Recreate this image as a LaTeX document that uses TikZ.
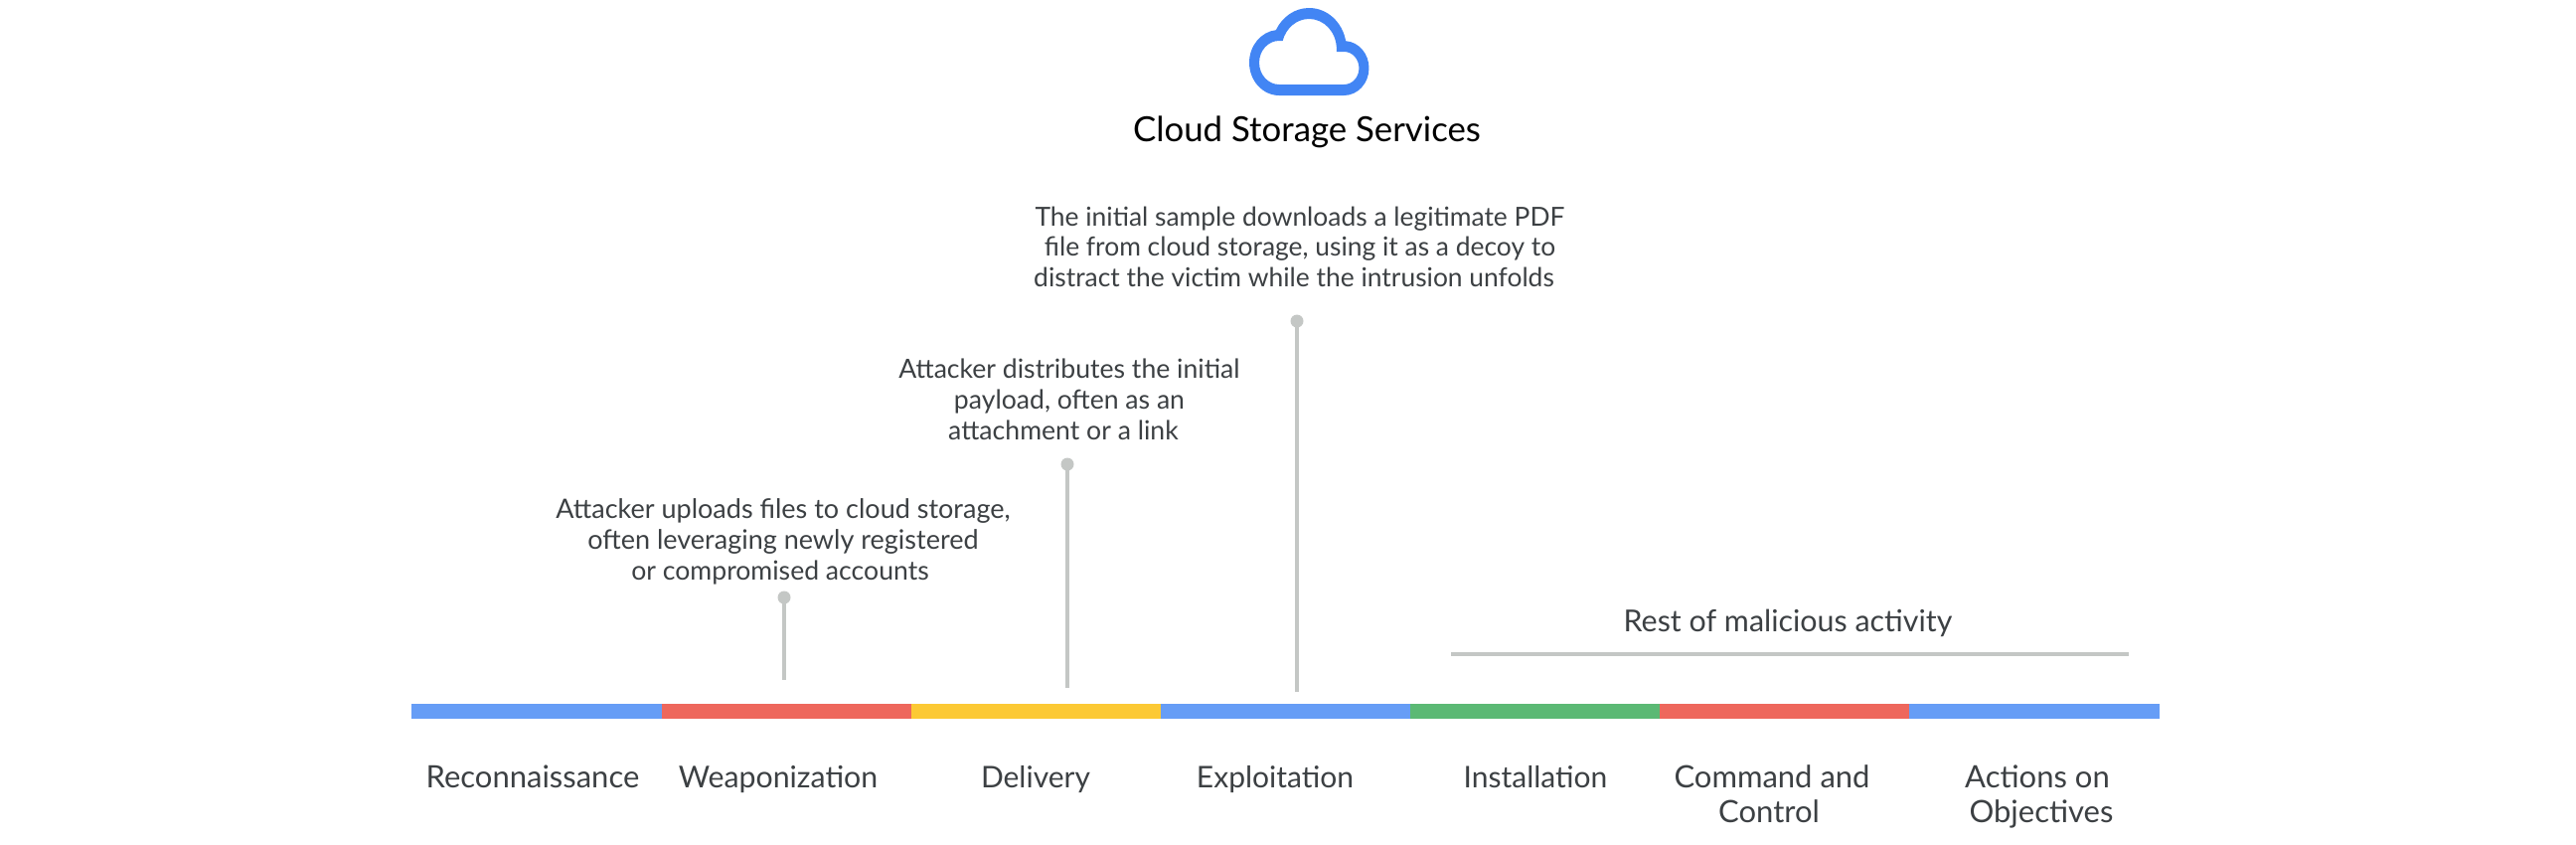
\documentclass[tikz,border=0pt]{standalone}
\usepackage{fontspec}
\setmainfont{Lato}
\definecolor{gblue}{HTML}{669DF6}
\definecolor{gred}{HTML}{EE675C}
\definecolor{gyellow}{HTML}{FCC934}
\definecolor{ggreen}{HTML}{5BB974}
\definecolor{iconblue}{HTML}{4285F4}
\definecolor{rulegrey}{HTML}{C4C7C5}
\definecolor{txt}{HTML}{3C4043}
\tikzset{
  seg/.style={fill=#1,draw=none},
  label/.style={anchor=base,inner sep=0pt,text=txt,font=\fontsize{#1}{#1}\selectfont},
  title/.style={anchor=base,inner sep=0pt,text=black,font=\fontsize{34.8}{40}\selectfont},
  stem/.style={draw=rulegrey,line width=4pt},
  pin/.style={circle,fill=rulegrey,draw=none,minimum size=13pt,inner sep=0pt},
}
\begin{document}
\begin{tikzpicture}[x=1pt,y=-1pt]
\useasboundingbox (0,0) rectangle (2592,849);
% cloud icon
\begin{scope}[shift={(1257,8)},x=5.02pt,y=-5.5pt]
\fill[iconblue,even odd rule] (19.35,6.04) .. controls (18.67,2.59) and (15.64,0) .. (12,0)
 .. controls (9.11,0) and (6.6,1.64) .. (5.35,4.04)
 .. controls (2.34,4.36) and (0,6.91) .. (0,10)
 .. controls (0,13.31) and (2.69,16) .. (6,16) -- (19,16)
 .. controls (21.76,16) and (24,13.76) .. (24,11)
 .. controls (24,8.36) and (21.95,6.22) .. (19.35,6.04) -- cycle
 (19,14) -- (6,14) .. controls (3.79,14) and (2,12.21) .. (2,10)
 .. controls (2,7.79) and (3.79,6) .. (6,6) -- (6.71,6)
 .. controls (7.37,3.69) and (9.48,2) .. (12,2)
 .. controls (15.04,2) and (17.5,4.46) .. (17.5,7.5) -- (17.5,8) -- (19,8)
 .. controls (20.66,8) and (22,9.34) .. (22,11)
 .. controls (22,12.66) and (20.66,14) .. (19,14) -- cycle;
\end{scope}
\node[title] (title) at (1315,142) {Cloud Storage Services};
% annotations
\node[label=26.4] (a3a) at (1308,227) {The initial sample downloads a legitimate PDF};
\node[label=26.4] (a3b) at (1308,257) {file from cloud storage, using it as a decoy to};
\node[label=26.4] (a3c) at (1302,288) {distract the victim while the intrusion unfolds};
\node[label=26.6] (a2a) at (1076,380) {Attacker distributes the initial};
\node[label=26.6] (a2b) at (1076,411) {payload, often as an};
\node[label=26.6] (a2c) at (1070,442) {attachment or a link};
\node[label=27] (a1a) at (788,521) {Attacker uploads files to cloud storage,};
\node[label=27] (a1b) at (788,552) {often leveraging newly registered};
\node[label=26.6] (a1c) at (785,583) {or compromised accounts};
% stems
\node[pin] (p1) at (789,601) {};
\coordinate (e1) at (789,684);
\node[pin] (p2) at (1074,467) {};
\coordinate (e2) at (1074,692);
\node[pin] (p3) at (1305,323) {};
\coordinate (e3) at (1305,696);
\draw[stem] (p1.center) -- (e1);
\draw[stem] (p2.center) -- (e2);
\draw[stem] (p3.center) -- (e3);
% rest
\node[label=30.4] (rest) at (1799,635) {Rest of malicious activity};
\coordinate (r1) at (1460,658);
\coordinate (r2) at (2142,658);
\draw[draw=rulegrey,line width=4pt] (r1) -- (r2);
% bar
\fill[seg=gblue] (414,708) rectangle (666,723);
\fill[seg=gred] (666,708) rectangle (917,723);
\fill[seg=gyellow] (917,708) rectangle (1168,723);
\fill[seg=gblue] (1168,708) rectangle (1419,723);
\fill[seg=ggreen] (1419,708) rectangle (1670,723);
\fill[seg=gred] (1670,708) rectangle (1921,723);
\fill[seg=gblue] (1921,708) rectangle (2173,723);
% phases
\node[label=31] (l1) at (536,792) {Reconnaissance};
\node[label=30.3] (l2) at (783,792) {Weaponization};
\node[label=30] (l3) at (1042,792) {Delivery};
\node[label=30] (l4) at (1283,792) {Exploitation};
\node[label=30] (l5) at (1545,792) {Installation};
\node[label=31] (l6a) at (1783,792) {Command and};
\node[label=31] (l6b) at (1780,827) {Control};
\node[label=31] (l7a) at (2050,792) {Actions on};
\node[label=31] (l7b) at (2054,827) {Objectives};
\end{tikzpicture}
\end{document}
